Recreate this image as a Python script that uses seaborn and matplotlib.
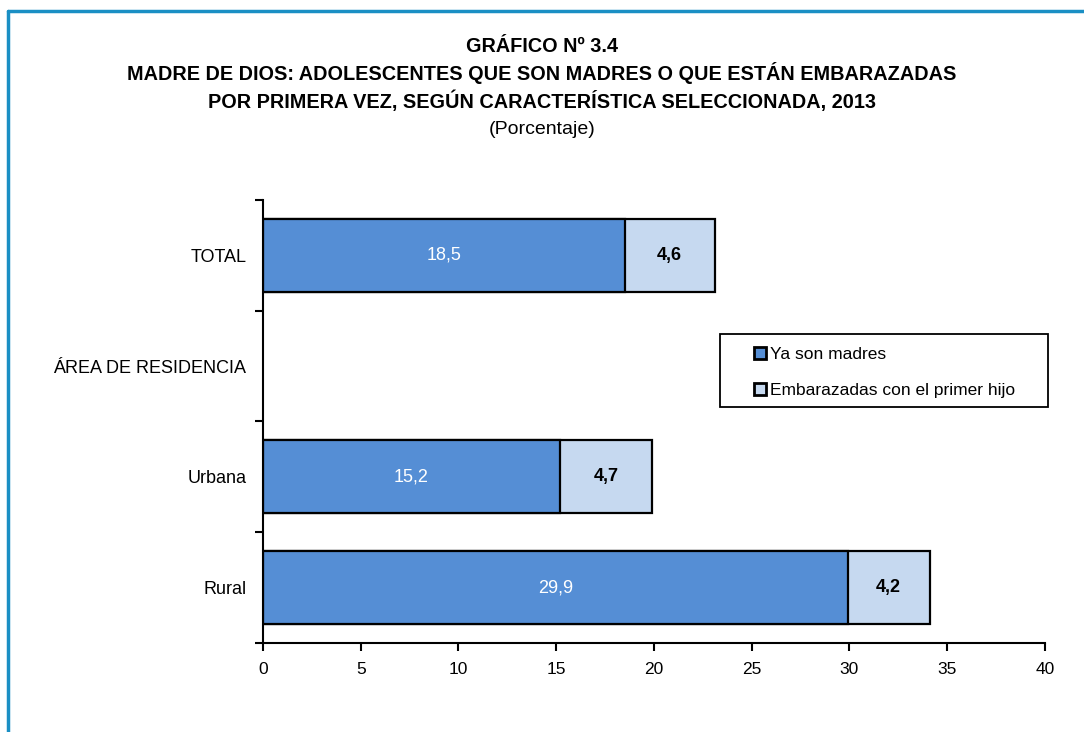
import matplotlib
matplotlib.use("Agg")
import matplotlib.pyplot as plt
import seaborn as sns
import pandas as pd
import numpy as np

categorias = ["TOTAL", "ÁREA DE RESIDENCIA", "Urbana", "Rural"]
ya_madres = [18.5, np.nan, 15.2, 29.9]
embarazadas = [4.6, np.nan, 4.7, 4.2]

sns.set_style("white")
plt.rcParams["font.family"] = ["Liberation Sans", "DejaVu Sans"]
plt.rcParams["text.color"] = "black"
plt.rcParams["xtick.color"] = "black"
plt.rcParams["ytick.color"] = "black"

df = pd.DataFrame({"cat": categorias, "madres": ya_madres, "emb": embarazadas})
df["total"] = df["madres"] + df["emb"]

fig = plt.figure(figsize=(10.84, 7.32), dpi=100)
ax = fig.add_axes([0.2426, 0.1216, 0.7214, 0.6052])

azul = "#558ED5"
celeste = "#C6D9F0"

# barra total (clara) y encima la barra de madres (oscura)
sns.barplot(data=df, y="cat", x="total", order=categorias, color=celeste,
            saturation=1, edgecolor="black", linewidth=1.6, width=0.66, ax=ax,
            label="Embarazadas con el primer hijo")
sns.barplot(data=df, y="cat", x="madres", order=categorias, color=azul,
            saturation=1, edgecolor="black", linewidth=1.6, width=0.66, ax=ax,
            label="Ya son madres")

for i, (m, e) in enumerate(zip(ya_madres, embarazadas)):
    if np.isnan(m):
        continue
    ax.text(m / 2, i, f"{m:.1f}".replace(".", ","), ha="center", va="center",
            color="white", fontsize=13)
    ax.text(m + e / 2, i, f"{e:.1f}".replace(".", ","), ha="center", va="center",
            color="black", fontsize=13, fontweight="bold")

ax.set_xlim(0, 40)
ax.set_ylim(3.5, -0.5)
ax.set_xticks(range(0, 41, 5))
ax.set_xlabel("")
ax.set_ylabel("")
ax.set_yticks(np.arange(-0.5, 4, 1), minor=True)
ax.tick_params(axis="y", which="major", length=0, pad=12, labelsize=13)
ax.tick_params(axis="y", which="minor", length=6, width=1.5, direction="out", left=True)
ax.tick_params(axis="x", length=6, width=1.5, direction="out", bottom=True,
               labelsize=12.5, pad=8)
for s in ["top", "right"]:
    ax.spines[s].set_visible(False)
for s in ["left", "bottom"]:
    ax.spines[s].set_linewidth(1.5)
    ax.spines[s].set_color("black")

h, l = ax.get_legend_handles_labels()
if ax.get_legend():
    ax.get_legend().remove()
# marco de la leyenda dibujado aparte
W, H = 1084, 732
fig.add_artist(plt.Rectangle((720 / W, 1 - 407 / H), 328 / W, 73 / H,
                             transform=fig.transFigure, fill=False,
                             edgecolor="black", linewidth=1.3))
leg = fig.legend(h[::-1], l[::-1], loc="upper left",
                 bbox_to_anchor=(754 / W, 1 - 347 / H),
                 frameon=False, fontsize=12.5,
                 handlelength=0.7, handleheight=0.7, handletextpad=0.25,
                 borderpad=0, labelspacing=1.2, borderaxespad=0)
for p in leg.legend_handles:
    p.set_linewidth(2)

titulo = ["GRÁFICO Nº 3.4",
          "MADRE DE DIOS: ADOLESCENTES QUE SON MADRES O QUE ESTÁN EMBARAZADAS",
          "POR PRIMERA VEZ, SEGÚN CARACTERÍSTICA SELECCIONADA, 2013"]
for k, t in enumerate(titulo):
    fig.text(0.5, 1 - (46 + 27.5 * k) / H, t, ha="center", va="center",
             fontsize=14.3, fontweight="bold")
fig.text(0.5, 1 - 129 / H, "(Porcentaje)", ha="center", va="center", fontsize=14)

# marco azul
col = "#1A8FC4"
fig.add_artist(plt.Line2D([8 / W, 1], [1 - 11 / H] * 2, color=col, lw=2.5))
fig.add_artist(plt.Line2D([8 / W] * 2, [0, 1 - 11 / H], color=col, lw=2.5))

fig.savefig("out.png", dpi=100)
